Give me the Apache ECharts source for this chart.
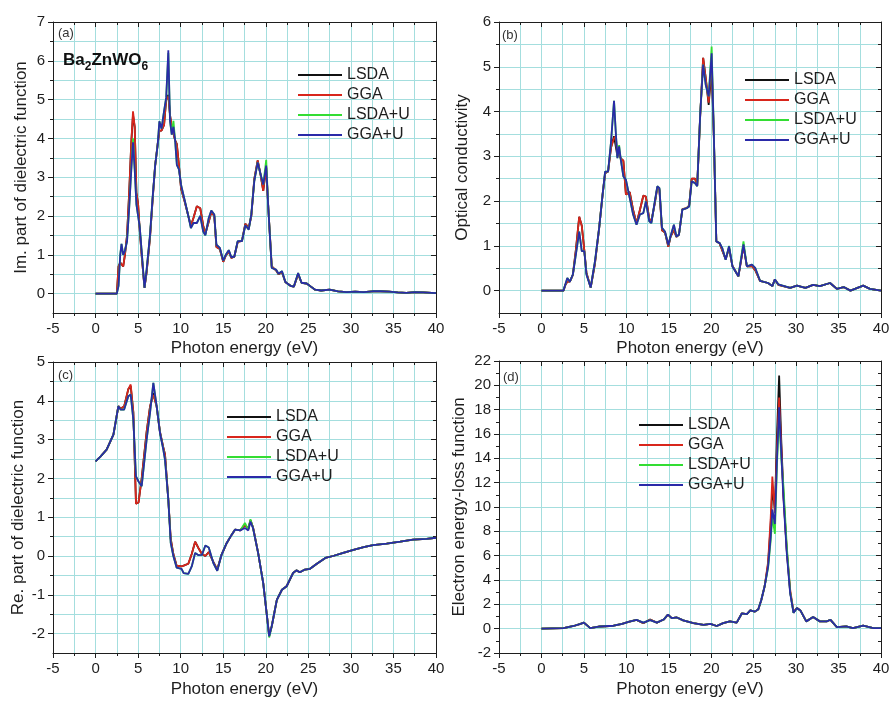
<!DOCTYPE html>
<html>
<head>
<meta charset="utf-8">
<script src="https://cdn.jsdelivr.net/npm/echarts@6/dist/echarts.min.js"></script>
<style>
  html, body { margin: 0; padding: 0; background: #ffffff; }
  #chart { width: 892px; height: 702px; }
</style>
</head>
<body>
<div id="chart"></div>
<script>
// ---- Series names (one curve per exchange-correlation scheme) ----
const seriesNames = ['LSDA', 'GGA', 'LSDA+U', 'GGA+U'];

// ---- (a) Imaginary part of the dielectric function ----
const energyA = [0, 2.5, 2.7, 2.9, 3.05, 3.25, 3.45, 3.7, 3.95, 4.2,
  4.4, 4.6, 4.8, 5.0, 5.2, 5.45, 5.75, 6.0, 6.4, 6.7,
  7.0, 7.3, 7.5, 7.75, 8.05, 8.3, 8.55, 8.75, 8.95, 9.15,
  9.35, 9.55, 9.8, 10.05, 10.5, 10.9, 11.2, 11.5, 11.9, 12.3,
  12.65, 12.9, 13.3, 13.6, 13.95, 14.2, 14.6, 15.0, 15.3, 15.65,
  15.95, 16.3, 16.7, 17.2, 17.6, 18.0, 18.3, 18.65, 19.05, 19.4,
  19.7, 20.05, 20.3, 20.7, 21.2, 21.5, 21.9, 22.3, 22.9, 23.3,
  23.8, 24.2, 24.8, 25.3, 25.8, 26.5, 27.5, 28.5, 29.5, 30.5,
  31.5, 32.5, 33.5, 34.5, 35.5, 36.5, 37.5, 38.5, 39.5, 40];
const lsdaA = [0, 0, 0.7, 0.8, 0.8, 0.7, 1.0, 1.5, 2.6, 3.9,
  4.6, 4.3, 2.6, 2.3, 1.6, 0.9, 0.15, 0.55, 1.45, 2.4,
  3.3, 3.85, 4.2, 4.2, 4.35, 5.0, 5.12, 4.6, 4.3, 4.25,
  3.95, 3.85, 3.3, 2.7, 2.35, 2.0, 1.75, 1.95, 2.25, 2.2,
  1.75, 1.55, 1.85, 2.1, 2.0, 1.2, 1.15, 0.82, 0.98, 1.08,
  0.92, 0.95, 1.33, 1.36, 1.8, 1.7, 2.0, 2.95, 3.43, 3.05,
  2.65, 3.25, 2.2, 0.7, 0.6, 0.5, 0.55, 0.3, 0.2, 0.18,
  0.5, 0.28, 0.26, 0.18, 0.1, 0.08, 0.1, 0.06, 0.04, 0.05,
  0.04, 0.06, 0.06, 0.05, 0.03, 0.02, 0.04, 0.03, 0.02, 0.01];
const ggaA = [0, 0, 0.7, 0.8, 0.8, 0.7, 1.0, 1.5, 2.6, 3.9,
  4.7, 4.3, 2.6, 2.3, 1.6, 0.9, 0.15, 0.55, 1.45, 2.4,
  3.3, 3.85, 4.2, 4.2, 4.35, 5.0, 5.08, 4.6, 4.3, 4.25,
  3.95, 3.85, 3.3, 2.7, 2.35, 2.0, 1.75, 1.95, 2.25, 2.2,
  1.75, 1.55, 1.85, 2.1, 2.0, 1.2, 1.15, 0.82, 0.98, 1.08,
  0.92, 0.95, 1.33, 1.36, 1.8, 1.7, 2.0, 2.95, 3.43, 3.05,
  2.65, 3.25, 2.2, 0.7, 0.6, 0.5, 0.55, 0.3, 0.2, 0.18,
  0.5, 0.28, 0.26, 0.18, 0.1, 0.08, 0.1, 0.06, 0.04, 0.05,
  0.04, 0.06, 0.06, 0.05, 0.03, 0.02, 0.04, 0.03, 0.02, 0.01];
const lsdaUA = [0, 0, 0.2, 1.0, 1.28, 1.0, 1.1, 1.35, 2.2, 3.2,
  4.0, 3.2, 2.3, 2.25, 1.7, 1.0, 0.15, 0.62, 1.52, 2.46,
  3.29, 3.84, 4.44, 4.25, 4.7, 5.05, 6.2, 4.45, 4.1, 4.45,
  3.95, 3.32, 3.2, 2.8, 2.38, 2.0, 1.69, 1.82, 1.82, 2.0,
  1.6, 1.5, 1.95, 2.14, 2.04, 1.26, 1.18, 0.85, 1.0, 1.12,
  0.94, 0.95, 1.35, 1.35, 1.76, 1.65, 2.04, 2.9, 3.38, 3.07,
  2.81, 3.45, 2.2, 0.66, 0.62, 0.51, 0.58, 0.3, 0.2, 0.18,
  0.53, 0.28, 0.26, 0.18, 0.1, 0.08, 0.1, 0.06, 0.04, 0.05,
  0.04, 0.06, 0.06, 0.05, 0.03, 0.02, 0.04, 0.03, 0.02, 0.01];
const ggaUA = [0, 0, 0.2, 1.0, 1.28, 1.0, 1.1, 1.35, 2.2, 3.2,
  3.9, 3.2, 2.3, 2.25, 1.7, 1.0, 0.15, 0.62, 1.52, 2.46,
  3.29, 3.84, 4.44, 4.25, 4.7, 5.05, 6.27, 4.45, 4.1, 4.3,
  3.95, 3.32, 3.2, 2.8, 2.38, 2.0, 1.69, 1.82, 1.82, 2.0,
  1.6, 1.5, 1.95, 2.14, 2.04, 1.26, 1.18, 0.85, 1.0, 1.12,
  0.94, 0.95, 1.35, 1.35, 1.76, 1.65, 2.04, 2.9, 3.38, 3.07,
  2.81, 3.3, 2.2, 0.66, 0.62, 0.51, 0.58, 0.3, 0.2, 0.18,
  0.53, 0.28, 0.26, 0.18, 0.1, 0.08, 0.1, 0.06, 0.04, 0.05,
  0.04, 0.06, 0.06, 0.05, 0.03, 0.02, 0.04, 0.03, 0.02, 0.01];

// ---- (b) Optical conductivity ----
const energyB = [0, 2.6, 2.8, 3.05, 3.35, 3.7, 4.05, 4.45, 4.75, 5.05,
  5.3, 5.8, 6.3, 6.8, 7.2, 7.5, 7.85, 8.2, 8.55, 8.75,
  8.95, 9.15, 9.35, 9.65, 9.95, 10.4, 10.8, 11.2, 11.6, 12.0,
  12.3, 12.7, 12.95, 13.35, 13.65, 13.9, 14.2, 14.55, 14.95, 15.2,
  15.6, 15.9, 16.2, 16.6, 17.1, 17.4, 17.7, 18.1, 18.35, 18.7,
  19.05, 19.35, 19.7, 20.05, 20.3, 20.6, 21.0, 21.3, 21.7, 22.1,
  22.5, 23.2, 23.8, 24.2, 24.8, 25.2, 25.75, 26.7, 27.2, 27.5,
  27.9, 29.3, 30.1, 31.1, 32.0, 32.8, 34.0, 34.8, 35.6, 36.4,
  37.9, 38.7, 40];
const lsdaB = [0, 0, 0.12, 0.2, 0.2, 0.35, 0.9, 1.65, 1.45, 0.9,
  0.4, 0.07, 0.6, 1.4, 2.14, 2.62, 2.66, 3.2, 3.45, 3.45,
  3.0, 3.05, 2.95, 2.9, 2.15, 2.2, 1.8, 1.5, 1.8, 2.12,
  2.1, 1.6, 1.55, 1.95, 2.3, 2.25, 1.35, 1.3, 0.98, 1.2,
  1.35, 1.2, 1.25, 1.82, 1.84, 1.9, 2.5, 2.5, 2.35, 3.9,
  5.2, 4.75, 4.15, 4.95, 3.5, 1.1, 1.05, 0.9, 0.7, 0.95,
  0.55, 0.32, 1.0, 0.54, 0.55, 0.45, 0.22, 0.17, 0.1, 0.25,
  0.13, 0.06, 0.11, 0.06, 0.13, 0.1, 0.17, 0.04, 0.08, 0.0,
  0.11, 0.04, 0];
const ggaB = [0, 0, 0.12, 0.2, 0.2, 0.35, 0.9, 1.65, 1.45, 0.9,
  0.4, 0.07, 0.6, 1.4, 2.14, 2.62, 2.66, 3.2, 3.4, 3.45,
  3.0, 3.05, 2.95, 2.9, 2.15, 2.2, 1.8, 1.5, 1.8, 2.12,
  2.1, 1.6, 1.55, 1.95, 2.3, 2.25, 1.35, 1.3, 0.98, 1.2,
  1.35, 1.2, 1.25, 1.82, 1.84, 1.9, 2.5, 2.5, 2.35, 3.9,
  5.2, 4.75, 4.2, 5.15, 3.5, 1.1, 1.05, 0.9, 0.7, 0.95,
  0.55, 0.32, 1.0, 0.54, 0.55, 0.45, 0.22, 0.17, 0.1, 0.25,
  0.13, 0.06, 0.11, 0.06, 0.13, 0.1, 0.17, 0.04, 0.08, 0.0,
  0.11, 0.04, 0];
const lsdaUB = [0, 0, 0.13, 0.28, 0.2, 0.36, 0.8, 1.32, 0.88, 0.88,
  0.36, 0.07, 0.65, 1.4, 2.14, 2.66, 2.66, 3.33, 4.24, 3.56,
  2.96, 3.25, 2.92, 2.55, 2.48, 2.07, 1.7, 1.47, 1.7, 1.73,
  1.99, 1.55, 1.51, 1.99, 2.33, 2.29, 1.4, 1.32, 1.02, 1.21,
  1.47, 1.21, 1.25, 1.81, 1.84, 1.88, 2.44, 2.4, 2.33, 3.93,
  5.05, 4.6, 4.34, 5.45, 3.56, 1.1, 1.06, 0.95, 0.69, 1.0,
  0.54, 0.32, 1.1, 0.54, 0.58, 0.5, 0.22, 0.17, 0.1, 0.25,
  0.14, 0.06, 0.11, 0.06, 0.13, 0.1, 0.17, 0.04, 0.08, 0.0,
  0.11, 0.04, 0];
const ggaUB = [0, 0, 0.13, 0.28, 0.2, 0.36, 0.8, 1.32, 0.88, 0.88,
  0.36, 0.07, 0.65, 1.4, 2.14, 2.66, 2.66, 3.33, 4.24, 3.56,
  2.96, 3.22, 2.92, 2.55, 2.48, 2.07, 1.7, 1.47, 1.7, 1.73,
  1.99, 1.55, 1.51, 1.99, 2.33, 2.29, 1.4, 1.32, 1.02, 1.21,
  1.47, 1.21, 1.25, 1.81, 1.84, 1.88, 2.44, 2.4, 2.33, 3.93,
  5.05, 4.6, 4.34, 5.3, 3.56, 1.1, 1.06, 0.95, 0.69, 0.99,
  0.54, 0.32, 1.03, 0.54, 0.58, 0.5, 0.22, 0.17, 0.1, 0.25,
  0.14, 0.06, 0.11, 0.06, 0.13, 0.1, 0.17, 0.04, 0.08, 0.0,
  0.11, 0.04, 0];

// ---- (c) Real part of the dielectric function ----
const energyC = [0, 0.6, 1.3, 2.1, 2.68, 2.95, 3.35, 3.85, 4.13, 4.44,
  4.75, 5.05, 5.42, 6.0, 6.4, 6.79, 7.18, 7.57, 7.96, 8.16,
  8.55, 8.83, 9.14, 9.53, 10.1, 10.35, 10.9, 11.3, 11.7, 12.1,
  12.5, 12.9, 13.3, 13.84, 14.3, 14.8, 15.4, 16.0, 16.4, 17.0,
  17.55, 17.95, 18.2, 18.5, 19.1, 19.7, 20.1, 20.4, 20.7, 21.3,
  21.9, 22.45, 23.2, 23.6, 24.0, 24.6, 25.2, 26.0, 27.0, 27.9,
  29.1, 30.3, 31.5, 32.6, 34.2, 35.8, 37.3, 38.9, 40];
const lsdaC = [2.44, 2.57, 2.74, 3.13, 3.86, 3.8, 3.85, 4.3, 4.38, 3.7,
  1.35, 1.38, 2.0, 3.2, 3.85, 4.2, 3.85, 3.2, 2.8, 2.62,
  1.45, 0.45, 0.05, -0.25, -0.27, -0.25, -0.2, 0.05, 0.37, 0.2,
  0.05, 0.0, 0.1, -0.15, -0.35, 0.03, 0.33, 0.55, 0.68, 0.66,
  0.8, 0.7, 0.92, 0.74, 0.08, -0.7, -1.47, -2.05, -1.81, -1.13,
  -0.87, -0.78, -0.44, -0.37, -0.42, -0.35, -0.33, -0.2, -0.05, 0.0,
  0.08, 0.16, 0.23, 0.28, 0.32, 0.37, 0.42, 0.44, 0.47];
const ggaC = [2.44, 2.57, 2.74, 3.13, 3.86, 3.8, 3.85, 4.3, 4.42, 3.7,
  1.35, 1.38, 2.0, 3.2, 3.85, 4.15, 3.85, 3.2, 2.8, 2.62,
  1.45, 0.45, 0.05, -0.25, -0.27, -0.25, -0.2, 0.05, 0.37, 0.2,
  0.05, 0.0, 0.1, -0.15, -0.35, 0.03, 0.33, 0.55, 0.68, 0.66,
  0.8, 0.7, 0.92, 0.74, 0.08, -0.7, -1.47, -2.05, -1.81, -1.13,
  -0.87, -0.78, -0.44, -0.37, -0.42, -0.35, -0.33, -0.2, -0.05, 0.0,
  0.08, 0.16, 0.23, 0.28, 0.32, 0.37, 0.42, 0.44, 0.47];
const lsdaUC = [2.44, 2.57, 2.74, 3.13, 3.86, 3.77, 3.77, 4.12, 4.16, 3.51,
  2.05, 1.92, 1.8, 3.0, 3.69, 4.46, 3.86, 3.17, 2.74, 2.48,
  1.45, 0.34, 0.0, -0.3, -0.33, -0.44, -0.46, -0.27, 0.08, 0.02,
  0.03, 0.27, 0.22, -0.18, -0.38, 0.03, 0.33, 0.55, 0.68, 0.66,
  0.85, 0.68, 0.95, 0.72, 0.08, -0.7, -1.47, -2.1, -1.81, -1.13,
  -0.87, -0.78, -0.44, -0.37, -0.42, -0.35, -0.33, -0.2, -0.05, 0.0,
  0.08, 0.16, 0.23, 0.28, 0.32, 0.37, 0.42, 0.44, 0.47];
const ggaUC = [2.44, 2.57, 2.74, 3.13, 3.86, 3.77, 3.77, 4.12, 4.16, 3.51,
  2.05, 1.92, 1.8, 3.0, 3.69, 4.46, 3.86, 3.17, 2.74, 2.48,
  1.45, 0.34, 0.0, -0.3, -0.33, -0.44, -0.46, -0.27, 0.08, 0.02,
  0.03, 0.27, 0.22, -0.18, -0.38, 0.03, 0.33, 0.55, 0.68, 0.66,
  0.72, 0.66, 0.89, 0.72, 0.08, -0.7, -1.47, -2.07, -1.81, -1.13,
  -0.87, -0.78, -0.44, -0.37, -0.42, -0.35, -0.33, -0.2, -0.05, 0.0,
  0.08, 0.16, 0.23, 0.28, 0.32, 0.37, 0.42, 0.44, 0.47];

// ---- (d) Electron energy-loss function ----
const energyD = [0, 2.6, 3.8, 4.6, 5.0, 5.75, 6.9, 8.5, 9.5, 10.25,
  11.2, 12.0, 12.8, 13.6, 14.4, 14.9, 15.35, 15.95, 16.7, 17.9,
  19.1, 19.9, 20.65, 21.4, 22.2, 23.0, 23.6, 24.2, 24.6, 25.15,
  25.55, 25.9, 26.3, 26.7, 27.0, 27.2, 27.5, 27.75, 28.0, 28.25,
  28.5, 28.9, 29.3, 29.7, 30.1, 30.5, 31.2, 32.0, 32.8, 33.6,
  34.05, 34.8, 35.9, 36.7, 37.9, 39.1, 40];
const lsdaD = [0, 0.05, 0.22, 0.4, 0.5, 0.05, 0.18, 0.24, 0.4, 0.55,
  0.72, 0.45, 0.75, 0.5, 0.75, 1.15, 0.87, 0.92, 0.68, 0.46,
  0.32, 0.4, 0.22, 0.46, 0.6, 0.5, 1.25, 1.2, 1.5, 1.4,
  1.6, 2.35, 3.5, 5.3, 8.5, 11.5, 9.8, 16.0, 20.8, 15.5,
  11.2, 6.4, 3.0, 1.3, 1.7, 1.5, 0.6, 0.95, 0.6, 0.6,
  0.73, 0.13, 0.18, 0.05, 0.24, 0.05, 0.04];
const ggaD = [0, 0.05, 0.22, 0.4, 0.5, 0.05, 0.18, 0.24, 0.4, 0.55,
  0.72, 0.45, 0.75, 0.5, 0.75, 1.15, 0.87, 0.92, 0.68, 0.46,
  0.32, 0.4, 0.22, 0.46, 0.6, 0.5, 1.25, 1.2, 1.5, 1.4,
  1.6, 2.35, 3.5, 5.5, 9.0, 12.5, 9.5, 15.0, 19.0, 15.0,
  11.0, 6.5, 3.2, 1.4, 1.7, 1.5, 0.6, 0.95, 0.6, 0.6,
  0.73, 0.13, 0.18, 0.05, 0.24, 0.05, 0.04];
const lsdaUD = [0, 0.05, 0.22, 0.4, 0.5, 0.05, 0.18, 0.24, 0.4, 0.55,
  0.72, 0.5, 0.7, 0.5, 0.75, 1.15, 0.87, 0.92, 0.68, 0.46,
  0.32, 0.4, 0.22, 0.46, 0.6, 0.5, 1.25, 1.2, 1.5, 1.4,
  1.6, 2.35, 3.5, 5.0, 7.2, 9.2, 7.8, 13.5, 17.6, 14.0,
  11.8, 6.8, 3.0, 1.3, 1.7, 1.5, 0.6, 0.95, 0.6, 0.6,
  0.73, 0.13, 0.18, 0.05, 0.24, 0.05, 0.04];
const ggaUD = [0, 0.05, 0.22, 0.4, 0.5, 0.05, 0.18, 0.24, 0.4, 0.55,
  0.72, 0.5, 0.7, 0.5, 0.75, 1.15, 0.87, 0.92, 0.68, 0.46,
  0.32, 0.4, 0.22, 0.46, 0.6, 0.5, 1.25, 1.2, 1.5, 1.4,
  1.6, 2.35, 3.5, 5.1, 7.5, 9.8, 8.6, 14.0, 18.2, 14.5,
  10.8, 6.2, 2.9, 1.3, 1.7, 1.5, 0.6, 0.95, 0.6, 0.6,
  0.73, 0.13, 0.18, 0.05, 0.24, 0.05, 0.04];

// ---- Tick values of the y axes (labelled majors and unlabelled minors) ----
const yTicksA = [0, 1, 2, 3, 4, 5, 6, 7];
const yMinorA = [0.5, 1.5, 2.5, 3.5, 4.5, 5.5, 6.5];
const yTicksB = [0, 1, 2, 3, 4, 5, 6];
const yMinorB = [0.5, 1.5, 2.5, 3.5, 4.5, 5.5];
const yTicksC = [-2, -1, 0, 1, 2, 3, 4, 5];
const yMinorC = [-1.5, -0.5, 0.5, 1.5, 2.5, 3.5, 4.5];
const yTicksD = [-2, 0, 2, 4, 6, 8, 10, 12, 14, 16, 18, 20, 22];
const yMinorD = [-1, 1, 3, 5, 7, 9, 11, 13, 15, 17, 19, 21];

// ---- Styling ----
const FONT = '"Liberation Sans", Arial, Helvetica, sans-serif';
const INK = '#1e1e1e';
const GRID_COLOR = '#a4dede';
const LINE_COLORS = ['#111111', '#d8261c', '#33dd33', '#2a2aa8'];

const panels = [
  { tag: '(a)', tagPos: [58, 27], box: { left: 53, top: 22, width: 383, height: 291 },
    yMin: -0.5, yMax: 7, gridStep: 0.5, yMajor: yTicksA, yMinor: yMinorA,
    yName: 'Im. part of dielectric function', yNameGap: 23, xNameGap: 27,
    energy: energyA, curves: [lsdaA, ggaA, lsdaUA, ggaUA], legendPos: { left: 298, top: 67 } },
  { tag: '(b)', tagPos: [502, 29], box: { left: 499, top: 22, width: 382, height: 291 },
    yMin: -0.5, yMax: 6, gridStep: 0.5, yMajor: yTicksB, yMinor: yMinorB,
    yName: 'Optical conductivity', yNameGap: 28, xNameGap: 27,
    energy: energyB, curves: [lsdaB, ggaB, lsdaUB, ggaUB], legendPos: { left: 745, top: 72 } },
  { tag: '(c)', tagPos: [58, 369], box: { left: 53, top: 362, width: 383, height: 291 },
    yMin: -2.5, yMax: 5, gridStep: 0.5, yMajor: yTicksC, yMinor: yMinorC,
    yName: 'Re. part of dielectric function', yNameGap: 26, xNameGap: 28,
    energy: energyC, curves: [lsdaC, ggaC, lsdaUC, ggaUC], legendPos: { left: 227, top: 409 } },
  { tag: '(d)', tagPos: [503, 371], box: { left: 499, top: 361, width: 382, height: 292 },
    yMin: -2, yMax: 22, gridStep: 2, yMajor: yTicksD, yMinor: yMinorD,
    yName: 'Electron energy-loss function', yNameGap: 31, xNameGap: 28,
    energy: energyD, curves: [lsdaD, ggaD, lsdaUD, ggaUD], legendPos: { left: 639, top: 417 } }
];

const option = {
  animation: false,
  backgroundColor: '#ffffff',
  textStyle: { fontFamily: FONT },
  grid: [], xAxis: [], yAxis: [], series: [], legend: [], graphic: []
};

const frameLine = { show: true, onZero: false, lineStyle: { color: INK, width: 1 } };
const tickLine = { color: INK, width: 1 };
const labelStyle = { fontSize: 15, color: INK, fontFamily: FONT, margin: 8 };
const nameStyle = { fontSize: 17, color: INK, fontFamily: FONT };

panels.forEach((p, i) => {
  option.grid.push(Object.assign({ containLabel: false, outerBoundsMode: 'none' }, p.box));

  // bottom energy axis with labels and the vertical grid lines
  option.xAxis.push({
    type: 'value', gridIndex: i, position: 'bottom', min: -5, max: 40, interval: 5,
    axisLine: frameLine,
    axisTick: { show: true, inside: false, length: 5, lineStyle: tickLine },
    minorTick: { show: true, splitNumber: 2, length: 3, lineStyle: tickLine },
    splitLine: { show: true, lineStyle: { color: GRID_COLOR, width: 1 } },
    minorSplitLine: { show: true, lineStyle: { color: GRID_COLOR, width: 1 } },
    axisLabel: labelStyle,
    name: 'Photon energy (eV)', nameLocation: 'middle', nameGap: p.xNameGap, nameTextStyle: nameStyle
  });
  // top frame edge with inward ticks
  option.xAxis.push({
    type: 'value', gridIndex: i, position: 'top', min: -5, max: 40, interval: 5,
    axisLine: frameLine,
    axisTick: { show: true, inside: true, length: 5, lineStyle: tickLine },
    minorTick: { show: true, splitNumber: 2, length: 3, lineStyle: tickLine },
    splitLine: { show: false }, axisLabel: { show: false }
  });

  const yBase = { type: 'value', gridIndex: i, min: p.yMin, max: p.yMax, interval: p.gridStep };
  // horizontal grid lines
  option.yAxis.push(Object.assign({}, yBase, {
    position: 'left', axisLine: { show: false, onZero: false }, axisTick: { show: false },
    axisLabel: { show: false }, splitLine: { show: true, lineStyle: { color: GRID_COLOR, width: 1 } }
  }));
  // left axis: labelled major ticks and title
  option.yAxis.push(Object.assign({}, yBase, {
    position: 'left', axisLine: frameLine,
    axisTick: { show: true, inside: false, length: 5, customValues: p.yMajor, lineStyle: tickLine },
    axisLabel: Object.assign({ customValues: p.yMajor }, labelStyle),
    splitLine: { show: false },
    name: p.yName, nameLocation: 'middle', nameGap: p.yNameGap, nameTextStyle: nameStyle
  }));
  // left minor ticks
  option.yAxis.push(Object.assign({}, yBase, {
    position: 'left', axisLine: { show: false, onZero: false },
    axisTick: { show: true, inside: false, length: 3, customValues: p.yMinor, lineStyle: tickLine },
    axisLabel: { show: false }, splitLine: { show: false }
  }));
  // right frame edge with inward major ticks
  option.yAxis.push(Object.assign({}, yBase, {
    position: 'right', axisLine: frameLine,
    axisTick: { show: true, inside: true, length: 5, customValues: p.yMajor, lineStyle: tickLine },
    axisLabel: { show: false }, splitLine: { show: false }
  }));
  // right minor ticks
  option.yAxis.push(Object.assign({}, yBase, {
    position: 'right', axisLine: { show: false, onZero: false },
    axisTick: { show: true, inside: true, length: 3, customValues: p.yMinor, lineStyle: tickLine },
    axisLabel: { show: false }, splitLine: { show: false }
  }));

  seriesNames.forEach((name, j) => {
    option.series.push({
      type: 'line', name: name,
      xAxisIndex: 2 * i, yAxisIndex: 5 * i + 1,
      data: p.energy.map((e, k) => [e, p.curves[j][k]]),
      symbol: 'none', showSymbol: false, silent: true,
      color: LINE_COLORS[j],
      lineStyle: { color: LINE_COLORS[j], width: 1.8 },
      z: 3 + j
    });
  });

  // legend keys drawn as plain line segments
  option.legend.push({
    data: seriesNames, orient: 'vertical', left: p.legendPos.left, top: p.legendPos.top,
    padding: 0, icon: 'rect', itemWidth: 44, itemHeight: 2, itemGap: 4, selectedMode: false,
    textStyle: { fontSize: 16, color: INK, fontFamily: FONT }
  });

  option.graphic.push({
    type: 'text', left: p.tagPos[0], top: p.tagPos[1], z: 20,
    style: { text: p.tag, fontSize: 13, fill: '#333333', fontFamily: FONT }
  });
});

// compound formula label in panel (a)
option.graphic.push({
  type: 'text', left: 63, top: 52, z: 20,
  style: {
    text: '{m|Ba}{s|2}{m|ZnWO}{s|6}',
    fontFamily: FONT,
    rich: {
      m: { fontSize: 17, fontWeight: 'bold', fill: '#111111', fontFamily: FONT },
      s: { fontSize: 12, fontWeight: 'bold', fill: '#111111', fontFamily: FONT, padding: [12, 0, 0, 0] }
    }
  }
});

const chart = echarts.init(document.getElementById('chart'), null, { renderer: 'canvas' });
chart.setOption(option);
</script>
</body>
</html>
